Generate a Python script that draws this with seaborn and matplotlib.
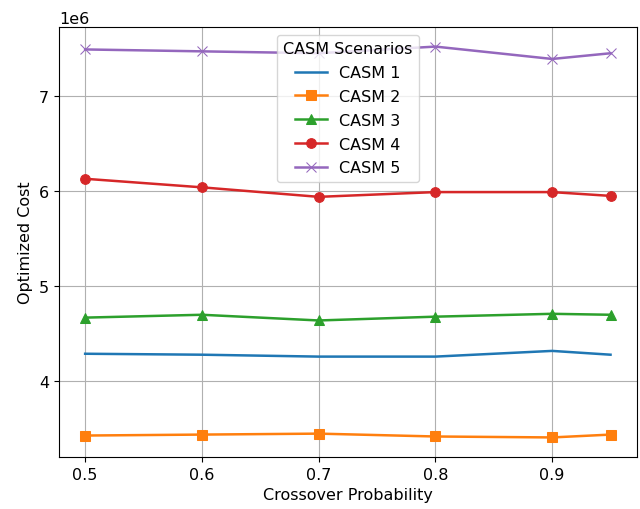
import matplotlib
matplotlib.use("Agg")
import pandas as pd
import seaborn as sns
import matplotlib.pyplot as plt

# crossover probabilities and optimized cost per CASM scenario
crossover = [0.5, 0.6, 0.7, 0.8, 0.9, 0.95]
casm1 = [4.29e6, 4.28e6, 4.26e6, 4.26e6, 4.32e6, 4.28e6]
casm2 = [3.43e6, 3.44e6, 3.45e6, 3.42e6, 3.41e6, 3.44e6]
casm3 = [4.67e6, 4.70e6, 4.64e6, 4.68e6, 4.71e6, 4.70e6]
casm4 = [6.13e6, 6.04e6, 5.94e6, 5.99e6, 5.99e6, 5.95e6]
casm5 = [7.49e6, 7.47e6, 7.45e6, 7.52e6, 7.39e6, 7.45e6]

series = {"CASM 1": casm1, "CASM 2": casm2, "CASM 3": casm3,
          "CASM 4": casm4, "CASM 5": casm5}
markers = {"CASM 1": None, "CASM 2": "s", "CASM 3": "^",
           "CASM 4": "o", "CASM 5": "x"}

plt.rcParams["font.size"] = 11.5

fig, ax = plt.subplots(figsize=(6.4, 5.1), dpi=100)
palette = sns.color_palette("tab10")
for i, (name, vals) in enumerate(series.items()):
    df = pd.DataFrame({"Crossover Probability": crossover, "Optimized Cost": vals})
    sns.lineplot(data=df, x="Crossover Probability", y="Optimized Cost",
                 marker=markers[name], markersize=7, linewidth=1.8,
                 color=palette[i], markeredgecolor=palette[i],
                 label=name, ax=ax)

ax.grid(True)
ax.legend(title="CASM Scenarios", loc="upper center", fontsize=11.5,
          title_fontsize=11.5, labelspacing=0.55)
ax.set_xlabel("Crossover Probability")
ax.set_ylabel("Optimized Cost")
fig.subplots_adjust(left=0.092, right=0.995, bottom=0.102, top=0.945)
plt.savefig("out.png")
